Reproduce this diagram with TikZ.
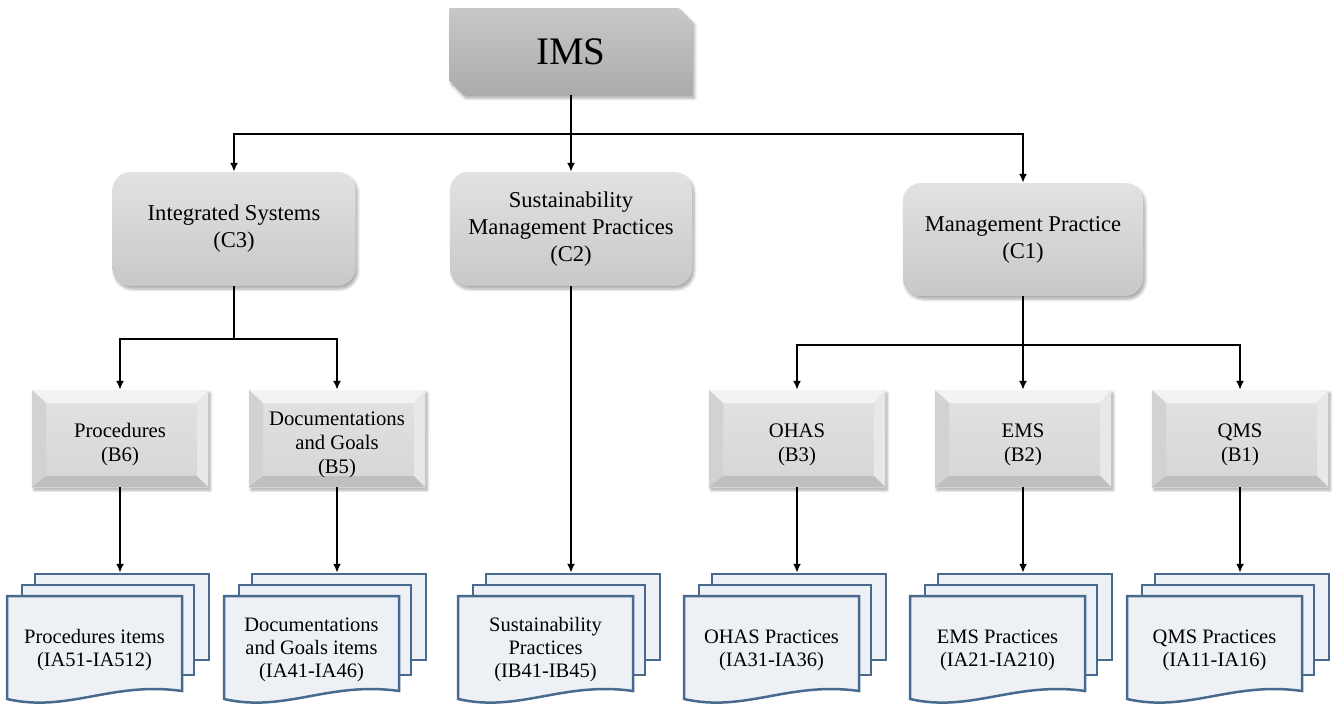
\documentclass[tikz,border=0pt]{standalone}
\usepackage{fontspec}
\setmainfont{Liberation Serif}
\usetikzlibrary{arrows.meta,shapes.misc,shadows.blur}
\definecolor{pageborder}{HTML}{476A8E}
\definecolor{pagefill}{HTML}{EDF0F4}
\definecolor{imstop}{HTML}{C8C8C8}
\definecolor{imsbot}{HTML}{ABABAB}
\definecolor{ctop}{HTML}{E2E2E2}
\definecolor{cbot}{HTML}{C8C8C8}
\definecolor{btop}{HTML}{E2E2E2}
\definecolor{bbot}{HTML}{D6D6D6}
\definecolor{bevT}{HTML}{F3F3F3}
\definecolor{bevL}{HTML}{D2D2D2}
\definecolor{bevR}{HTML}{E8E8E8}
\definecolor{bevB}{HTML}{BFBFBF}
\newcommand{\tallstrut}{\rule{0pt}{26pt}}
\newcommand{\docstack}[3]{%
  \node[backpage, minimum width=174pt, minimum height=86pt] (#2b) at (#1+2,617) {};
  \node[backpage, minimum width=172pt, minimum height=90pt] (#2m) at (#1-12,630) {};
  \filldraw[frontpage] (#1-113,596) -- (#1+62,596) -- (#1+62,691)
     .. controls (#1-8,681) and (#1-52,713) .. (#1-113,699) -- cycle;
  \node[doctext] (#2) at (#1-25.5,650) {#3};
}
\begin{document}
\begin{tikzpicture}[x=1pt,y=-1pt,
  conn/.style={line width=2pt, draw=black},
  arr/.style={conn, -{Latex[length=9pt,width=8pt]}},
  softshadow/.style={blur shadow={shadow xshift=2pt, shadow yshift=-3pt, shadow blur steps=6, shadow blur radius=3pt, shadow opacity=35}},
  imsbox/.style={chamfered rectangle, chamfered rectangle corners={north east,south west},
     chamfered rectangle xsep=7pt, chamfered rectangle ysep=7pt,
     minimum width=243pt, minimum height=87pt, inner sep=0pt,
     top color=imstop, bottom color=imsbot, softshadow,
     font=\fontsize{39}{46}\selectfont},
  cbox/.style={rectangle, rounded corners=18pt, inner sep=0pt, align=center,
     top color=ctop, bottom color=cbot, softshadow,
     font=\fontsize{22.6}{27}\selectfont},
  bevel/.style={path picture={
     \path (path picture bounding box.north west) coordinate (pnw)
           (path picture bounding box.north east) coordinate (pne)
           (path picture bounding box.south west) coordinate (psw)
           (path picture bounding box.south east) coordinate (pse);
     \fill[bevT] (pnw) -- (pne) -- ([shift={(-11pt,-13pt)}]pne) -- ([shift={(14pt,-13pt)}]pnw) -- cycle;
     \fill[bevL] (pnw) -- ([shift={(14pt,-13pt)}]pnw) -- ([shift={(14pt,11pt)}]psw) -- (psw) -- cycle;
     \fill[bevR] (pne) -- (pse) -- ([shift={(-11pt,11pt)}]pse) -- ([shift={(-11pt,-13pt)}]pne) -- cycle;
     \fill[bevB] (psw) -- (pse) -- ([shift={(-11pt,11pt)}]pse) -- ([shift={(14pt,11pt)}]psw) -- cycle;
  }},
  bbox/.style={rectangle, minimum width=176pt, minimum height=97pt, inner sep=0pt, align=center,
     top color=btop, bottom color=bbot, bevel, softshadow,
     font=\fontsize{20.7}{24}\selectfont},
  backpage/.style={rectangle, anchor=center, fill=pagefill, draw=pageborder, line width=2.5pt, inner sep=0pt},
  frontpage/.style={fill=pagefill, draw=pageborder, line width=2.5pt, line join=miter},
  doctext/.style={align=center, inner sep=0pt, font=\fontsize{20.5}{23}\selectfont}
]
\useasboundingbox (0,0) rectangle (1339,704);

% top
\node[imsbox] (ims) at (571,51.5) {IMS};

% C level
\node[cbox, minimum width=243pt, minimum height=114pt] (c3) at (234,229) {Integrated Systems\\(C3)};
\node[cbox, minimum width=242pt, minimum height=114pt] (c2) at (571,229) {Sustainability\\Management Practices\\(C2)};
\node[cbox, minimum width=240pt, minimum height=113pt] (c1) at (1023,239.5) {Management Practice\\(C1)};

% B level
\node[bbox] (b6) at (120,438.5) {\tallstrut Procedures\\(B6)};
\node[bbox] (b5) at (337,438.5) {\tallstrut Documentations\\and Goals\\(B5)};
\node[bbox] (b3) at (797,438.5) {\tallstrut OHAS\\(B3)};
\node[bbox] (b2) at (1023,438.5) {\tallstrut EMS\\(B2)};
\node[bbox] (b1) at (1240,438.5) {\tallstrut QMS\\(B1)};

% document stacks
\docstack{120}{d6}{Procedures items\\(IA51-IA512)}
\docstack{337}{d5}{Documentations\\and Goals items\\(IA41-IA46)}
\docstack{571}{d2}{Sustainability\\Practices\\(IB41-IB45)}
\docstack{797}{d3}{OHAS Practices\\(IA31-IA36)}
\docstack{1023}{d21}{EMS Practices\\(IA21-IA210)}
\docstack{1240}{d1}{QMS Practices\\(IA11-IA16)}

% junctions
\coordinate (j0) at (571,134);
\coordinate (j3) at (234,339);
\coordinate (j1) at (1023,345);

% connectors
\draw[conn] (ims.south) -- (j0);
\draw[arr] (j0) -| (c3.north);
\draw[arr] (j0) -| (c1.north);
\draw[arr] (j0) -- (c2.north);

\draw[conn] (c3.south) -- (j3);
\draw[arr] (j3) -| (b6.north);
\draw[arr] (j3) -| (b5.north);

\draw[conn] (c1.south) -- (j1);
\draw[arr] (j1) -| (b3.north);
\draw[arr] (j1) -- (b2.north);
\draw[arr] (j1) -| (b1.north);

\draw[arr] (c2.south) -- (c2.south |- d2b.north);
\draw[arr] (b6.south) -- (b6.south |- d6b.north);
\draw[arr] (b5.south) -- (b5.south |- d5b.north);
\draw[arr] (b3.south) -- (b3.south |- d3b.north);
\draw[arr] (b2.south) -- (b2.south |- d21b.north);
\draw[arr] (b1.south) -- (b1.south |- d1b.north);
\end{tikzpicture}
\end{document}
